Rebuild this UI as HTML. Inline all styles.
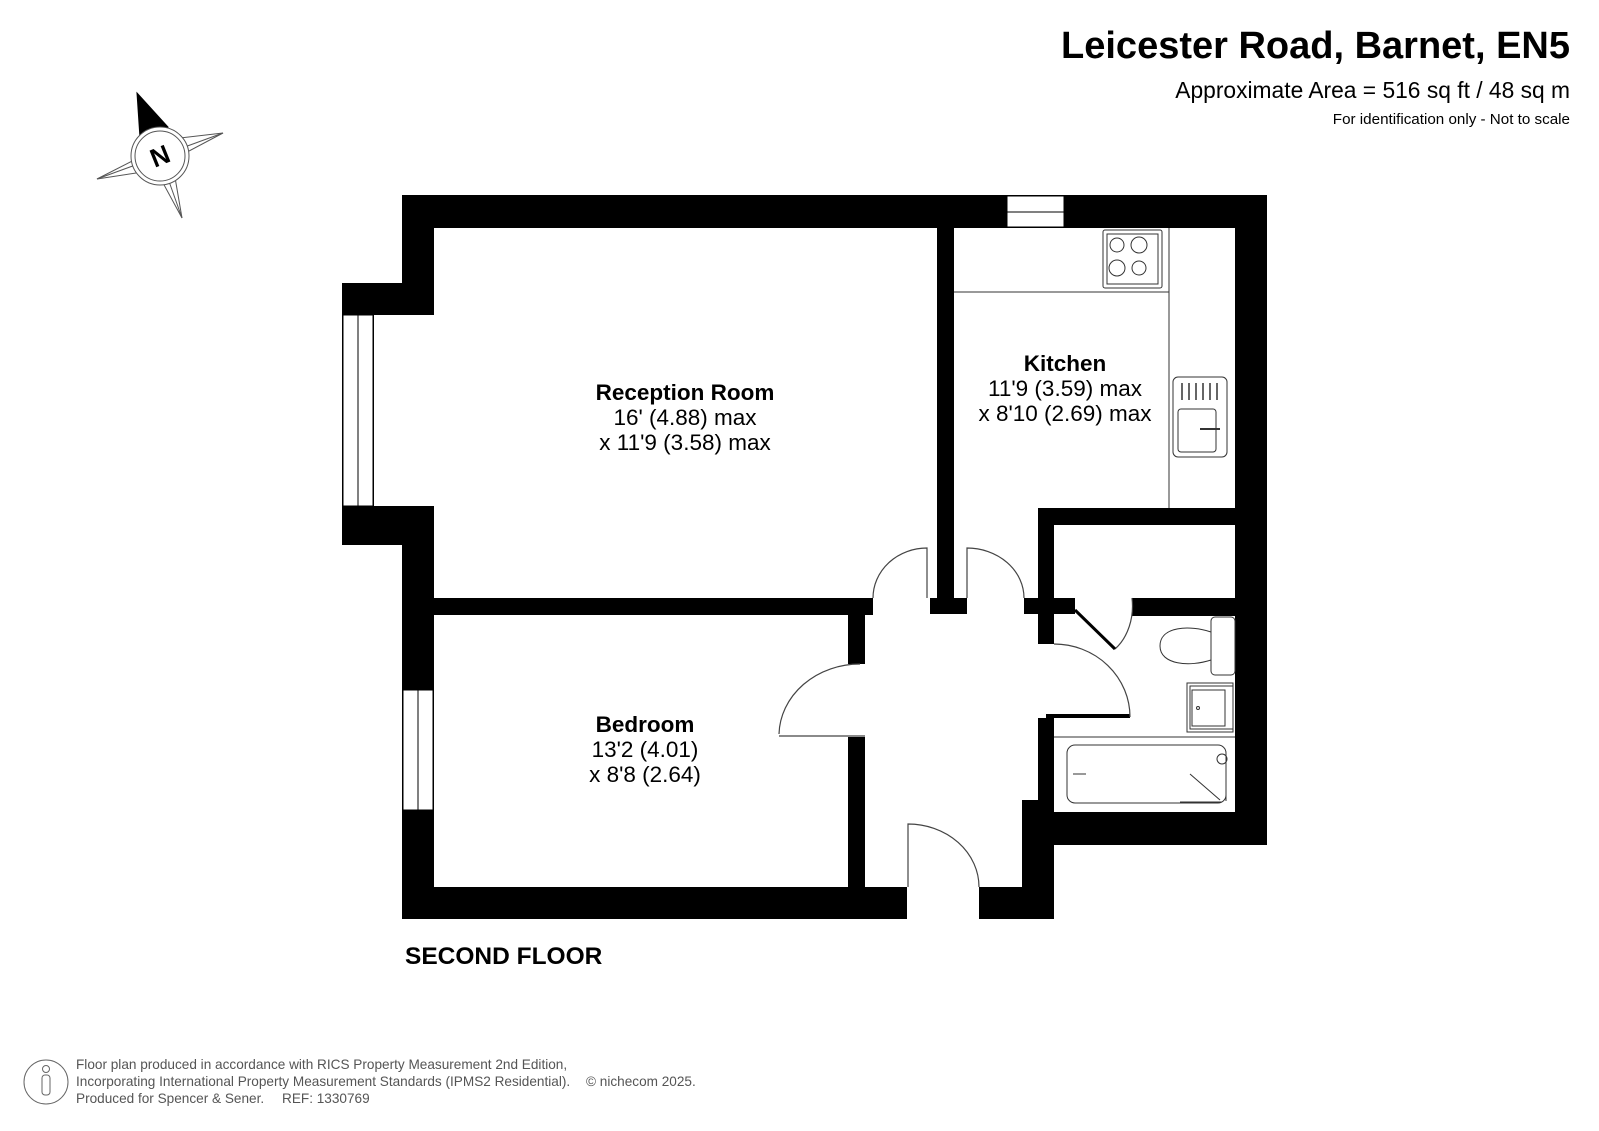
<!DOCTYPE html>
<html><head><meta charset="utf-8"><style>
html,body{margin:0;padding:0;background:#fff;}
svg{display:block;}
text{font-family:"Liberation Sans",Arial,sans-serif;}
</style></head><body>
<svg width="1599" height="1131" viewBox="0 0 1599 1131" xmlns="http://www.w3.org/2000/svg">
<rect width="1599" height="1131" fill="#fff"/>

<!-- Title -->
<text x="1570" y="58" text-anchor="end" font-size="38" font-weight="bold">Leicester Road, Barnet, EN5</text>
<text x="1570" y="98" text-anchor="end" font-size="22.8">Approximate Area = 516 sq ft / 48 sq m</text>
<text x="1570" y="124" text-anchor="end" font-size="15.2">For identification only - Not to scale</text>

<!-- Compass -->
<g stroke="#555" stroke-width="1" fill="#fff">
<polygon points="137,93 163,140 223,133 172,160 182,218 156,170 97,179 150,152"/>
<line x1="160" y1="156" x2="137" y2="93"/><line x1="160" y1="156" x2="223" y2="133"/>
<line x1="160" y1="156" x2="182" y2="218"/><line x1="160" y1="156" x2="97" y2="179"/>
<polygon points="137,93 168,127 140,138" fill="#000" stroke="#000"/>
<circle cx="160" cy="156" r="29"/>
<circle cx="160" cy="156" r="25"/>
</g>
<text x="160" y="165" text-anchor="middle" font-size="26" font-weight="bold" transform="rotate(-22 160 156)">N</text>

<!-- Walls -->
<g fill="#000">
<rect x="402" y="195" width="865" height="33"/>
<rect x="402" y="195" width="32" height="120"/>
<rect x="342" y="283" width="92" height="32"/>
<rect x="342" y="283" width="32" height="262"/>
<rect x="342" y="506" width="92" height="39"/>
<rect x="402" y="506" width="32" height="413"/>
<rect x="402" y="887" width="505" height="32"/>
<rect x="979" y="887" width="75" height="32"/>
<rect x="1022" y="800" width="32" height="119"/>
<rect x="1022" y="812" width="245" height="33"/>
<rect x="1235" y="195" width="32" height="650"/>
<rect x="434" y="598" width="439" height="17"/>
<rect x="848" y="598" width="17" height="66"/>
<rect x="848" y="737" width="17" height="160"/>
<rect x="937" y="228" width="17" height="386"/>
<rect x="930" y="598" width="37" height="16"/>
<rect x="1024" y="598" width="51" height="16"/>
<rect x="1038" y="508" width="16" height="136"/>
<rect x="1038" y="508" width="197" height="17"/>
<rect x="1132" y="598" width="103" height="18"/>
<rect x="1038" y="718" width="16" height="94"/>
<rect x="1046" y="714" width="84" height="4"/>
</g>

<!-- Windows -->
<g fill="#fff" stroke="#000" stroke-width="1">
<rect x="343" y="315" width="30" height="191"/>
<line x1="358" y1="315" x2="358" y2="506"/>
<rect x="403" y="690" width="30" height="120"/>
<line x1="418" y1="690" x2="418" y2="810"/>
<rect x="1007" y="196" width="57" height="31"/>
<line x1="1007" y1="212" x2="1064" y2="212"/>
</g>

<!-- Doors -->
<g fill="none" stroke="#444" stroke-width="1.2">
<path d="M873,598 A54,50 0 0 1 927,548 L927,598"/>
<path d="M1024,598 A57,50 0 0 0 967,548 L967,598"/>
<path d="M779,734 A81,72 0 0 1 860,664 M779,736 L865,736"/>
<path d="M908,887 L908,824 A71,63 0 0 1 979,887"/>
<path d="M1054,644 A76,73 0 0 1 1130,717"/>
<path d="M1115,649 A40,52 0 0 0 1132,598"/>
</g>
<line x1="1075" y1="610" x2="1115" y2="649" stroke="#000" stroke-width="3"/>

<!-- Kitchen fittings -->
<g fill="none" stroke="#333" stroke-width="1">
<polyline points="954,292 1169,292 1169,508"/>
<line x1="1169" y1="228" x2="1169" y2="508"/>
<rect x="1103" y="230" width="59" height="58" rx="2"/>
<rect x="1107" y="234" width="51" height="50"/>
<circle cx="1117" cy="245" r="7"/><circle cx="1139" cy="245" r="8"/>
<circle cx="1117" cy="268" r="8"/><circle cx="1139" cy="268" r="7"/>
<rect x="1173" y="377" width="54" height="80" rx="5"/>
<rect x="1178" y="409" width="38" height="43" rx="3"/>
<line x1="1200" y1="429" x2="1220" y2="429" stroke-width="2"/>
<g stroke-width="1.5"><line x1="1182" y1="383" x2="1182" y2="400"/><line x1="1189" y1="383" x2="1189" y2="400"/><line x1="1196" y1="383" x2="1196" y2="400"/><line x1="1203" y1="383" x2="1203" y2="400"/><line x1="1210" y1="383" x2="1210" y2="400"/><line x1="1217" y1="383" x2="1217" y2="400"/></g>
</g>

<!-- Bathroom fittings -->
<g fill="none" stroke="#333" stroke-width="1">
<rect x="1211" y="617" width="24" height="58" rx="4"/>
<path d="M1211,632 C1190,625 1160,626 1160,646 C1160,665 1190,667 1211,660"/>
<rect x="1187" y="683" width="46" height="49"/>
<rect x="1190" y="686" width="43" height="43"/>
<rect x="1192" y="690" width="33" height="36"/>
<circle cx="1198" cy="708" r="1.5"/>
<line x1="1054" y1="737" x2="1235" y2="737"/>
<rect x="1067" y="745" width="159" height="58" rx="8"/>
<line x1="1226" y1="763" x2="1226" y2="801"/>
<line x1="1190" y1="774" x2="1220" y2="800"/>
<line x1="1180" y1="802" x2="1222" y2="802"/>
<circle cx="1222" cy="759" r="5"/>
<path d="M1073,774 L1086,774"/>
</g>

<!-- Room labels -->
<g text-anchor="middle">
<text x="685" y="400" font-size="22.5" font-weight="bold">Reception Room</text>
<text x="685" y="425" font-size="22.5">16' (4.88) max</text>
<text x="685" y="450" font-size="22.5">x 11'9 (3.58) max</text>
<text x="1065" y="371" font-size="22.5" font-weight="bold">Kitchen</text>
<text x="1065" y="396" font-size="22.5">11'9 (3.59) max</text>
<text x="1065" y="421" font-size="22.5">x 8'10 (2.69) max</text>
<text x="645" y="732" font-size="22.5" font-weight="bold">Bedroom</text>
<text x="645" y="757" font-size="22.5">13'2 (4.01)</text>
<text x="645" y="782" font-size="22.5">x 8'8 (2.64)</text>
</g>
<text x="405" y="964" font-size="24.5" font-weight="bold">SECOND FLOOR</text>

<!-- Footer -->
<circle cx="46" cy="1082" r="22" fill="none" stroke="#666" stroke-width="1"/>
<circle cx="46" cy="1069" r="3.5" fill="none" stroke="#666"/>
<rect x="42" y="1075" width="8" height="20" rx="3" fill="none" stroke="#666"/>
<g font-size="13.6" fill="#555">
<text x="76" y="1069">Floor plan produced in accordance with RICS Property Measurement 2nd Edition,</text>
<text x="76" y="1086">Incorporating International Property Measurement Standards (IPMS2 Residential).</text>
<text x="586" y="1086">© nichecom 2025.</text>
<text x="76" y="1103">Produced for Spencer &amp; Sener.</text>
<text x="282" y="1103">REF:  1330769</text>
</g>
</svg>
</body></html>
